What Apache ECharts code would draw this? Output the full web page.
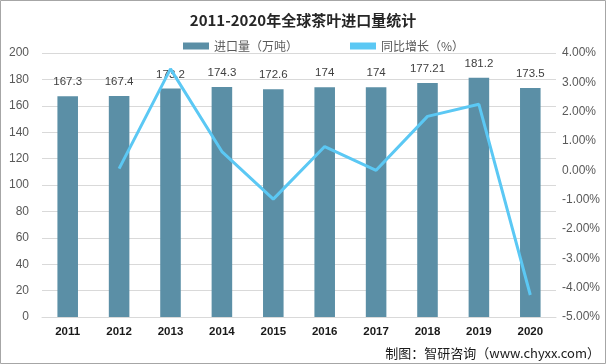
<!DOCTYPE html>
<html><head><meta charset="utf-8">
<script src="https://cdn.jsdelivr.net/npm/echarts@6/dist/echarts.min.js"></script>
<style>html,body{margin:0;padding:0;background:#fff}#c{width:606px;height:364px}</style>
</head><body><div id="c"></div>
<script>
var years = ['2011','2012','2013','2014','2015','2016','2017','2018','2019','2020'];
var imports = [167.3, 167.4, 173.2, 174.3, 172.6, 174, 174, 177.21, 181.2, 173.5];
var growth = [null, 0.06, 3.46, 0.64, -0.98, 0.81, 0.00, 1.84, 2.25, -4.25];
var leftTicks = {min: 0, max: 200, interval: 20};
var rightTicks = {min: -5, max: 4, interval: 1};

var chart = echarts.init(document.getElementById('c'));
chart.setOption({
  animation: false,
  title: {text: '2011-2020年全球茶叶进口量统计', left: 'center', top: 8,
    textStyle: {fontFamily: 'Noto Sans CJK SC', fontSize: 15, fontWeight: 'bold', color: '#262626'}},
  legend: {top: 35, left: 178, itemGap: 52, itemWidth: 26, itemHeight: 7,
    textStyle: {fontFamily: 'Noto Sans CJK SC', fontSize: 12, color: '#595959'},
    data: [{name: '进口量（万吨）', icon: 'rect'}, {name: '同比增长（%）', icon: 'rect', itemStyle: {color: '#5bc8f4'}}]},
  grid: {left: 42, right: 50, top: 53, bottom: 47},
  xAxis: {type: 'category', data: years,
    axisLine: {lineStyle: {color: '#d9d9d9'}}, axisTick: {show: false},
    axisLabel: {color: '#1a1a1a', fontWeight: 'bold', fontSize: 11.5, fontFamily: 'Liberation Sans', margin: 9}},
  yAxis: [
    {type: 'value', min: leftTicks.min, max: leftTicks.max, interval: leftTicks.interval,
      axisLabel: {color: '#595959', fontSize: 12, fontFamily: 'Liberation Sans', margin: 13},
      splitLine: {lineStyle: {color: '#d9d9d9'}}, axisLine: {show: false}, axisTick: {show: false}},
    {type: 'value', min: rightTicks.min, max: rightTicks.max, interval: rightTicks.interval,
      axisLabel: {color: '#595959', fontSize: 12, fontFamily: 'Liberation Sans', margin: 6,
        formatter: function (v) { return v.toFixed(2) + '%'; }},
      splitLine: {show: false}, axisLine: {show: false}, axisTick: {show: false}}
  ],
  series: [
    {name: '进口量（万吨）', type: 'bar', data: imports, barWidth: '40%',
      itemStyle: {color: '#5b8fa6'},
      label: {show: true, position: 'top', distance: 8, color: '#404040', fontSize: 11.5, fontFamily: 'Liberation Sans'}},
    {name: '同比增长（%）', type: 'line', yAxisIndex: 1, data: growth, showSymbol: false, symbol: 'none',
      connectNulls: false, itemStyle: {color: '#5bc8f4'}, lineStyle: {color: '#5bc8f4', width: 3}}
  ],
  graphic: [
    {type: 'rect', shape: {x: 0.5, y: 0.5, width: 605, height: 363}, style: {fill: 'none', stroke: '#a6a6a6', lineWidth: 1}},
    {type: 'text', right: 6, bottom: 4, style: {text: '制图：智研咨询（www.chyxx.com）', fill: '#1a1a1a', fontSize: 13, fontFamily: 'Noto Sans CJK SC'}}
  ]
});
</script></body></html>
